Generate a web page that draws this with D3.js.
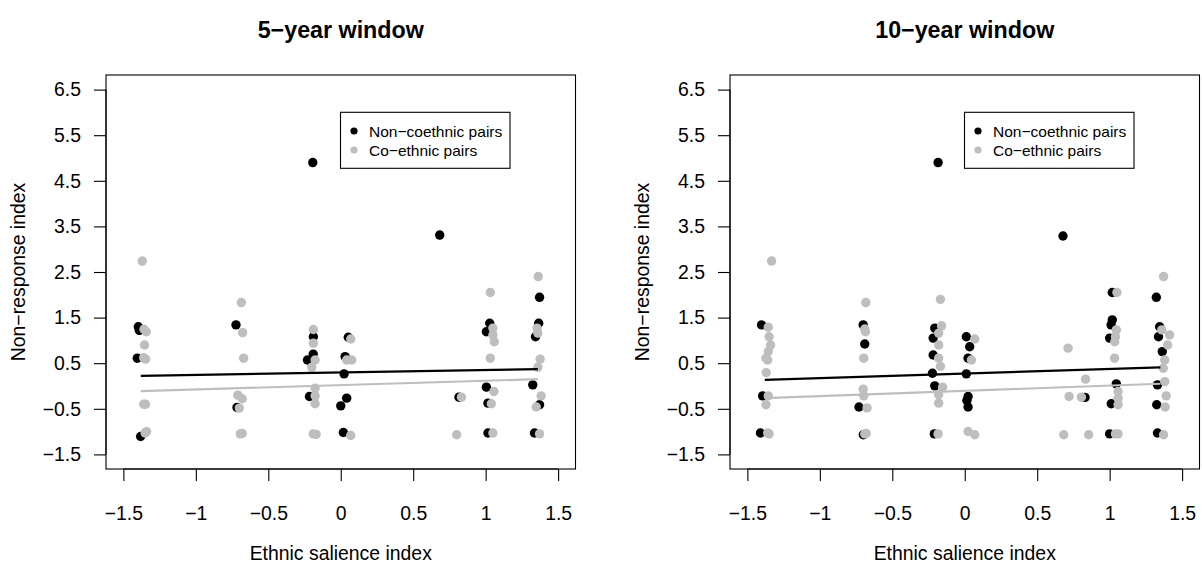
<!DOCTYPE html>
<html>
<head>
<meta charset="utf-8">
<script src="https://cdn.jsdelivr.net/npm/d3@7"></script>
<style>
  body { margin: 0; background: #fff; }
  svg text { font-family: "Liberation Sans", Arial, Helvetica, sans-serif; fill: #000; }
</style>
</head>
<body>
<div id="chart"></div>
<script>
// ---- data ----
const titles = ['5\u2212year window', '10\u2212year window'];
const xTicks = [-1.5, -1, -0.5, 0, 0.5, 1, 1.5];
const yTicks = [-1.5, -0.5, 0.5, 1.5, 2.5, 3.5, 4.5, 5.5, 6.5];
const legendLabels = ['Non\u2212coethnic pairs', 'Co\u2212ethnic pairs'];
const xTitle = 'Ethnic salience index';
const yTitle = 'Non\u2212response index';

// 5-year window
const nonCo5 = [
  [-1.397, 1.30], [-1.39, 1.22], [-1.404, 0.61], [-1.381, -1.107],
  [-0.723, 1.34], [-0.716, -0.47],
  [-0.193, 4.90], [-0.189, 1.08], [-0.23, 0.57], [-0.19, 0.70], [-0.216, -0.23],
  [0.052, 1.07], [0.03, 0.645], [0.023, 0.266], [0.041, -0.266], [0.0, -0.435], [0.018, -1.02],
  [0.683, 3.31], [0.816, -0.245],
  [1.028, 1.376], [1.005, 1.19], [1.005, -0.025], [1.016, -0.376], [1.016, -1.03],
  [1.372, 1.945], [1.366, 1.376], [1.344, 1.08], [1.325, 0.025], [1.372, -0.41], [1.337, -1.03]
];
const coEth5 = [
  [-1.37, 2.74], [-1.358, 1.244], [-1.342, 1.19], [-1.354, 0.90], [-1.347, 0.59], [-1.36, 0.62],
  [-1.347, -0.40], [-1.36, -0.40], [-1.35, -1.03], [-1.34, -1.0],
  [-0.686, 1.83], [-0.677, 1.17], [-0.67, 0.61], [-0.71, -0.2], [-0.68, -0.28], [-0.70, -0.485],
  [-0.693, -1.05], [-0.68, -1.04],
  [-0.189, 1.24], [-0.189, 0.94], [-0.177, 0.57], [-0.20, 0.41], [-0.177, -0.047], [-0.177, -0.216],
  [-0.177, -0.39], [-0.19, -1.05], [-0.17, -1.06],
  [0.069, 1.03], [0.041, 0.57], [0.076, 0.57], [0.069, -1.085],
  [0.833, -0.245], [0.80, -1.07],
  [1.032, 2.05], [1.05, 1.27], [1.05, 1.12], [1.06, 0.97], [1.032, 0.61], [1.057, -0.12],
  [1.039, -0.39], [1.05, -1.03],
  [1.363, 2.40], [1.355, 1.27], [1.36, 1.16], [1.376, 0.59], [1.36, 0.41], [1.383, -0.216],
  [1.349, -0.46], [1.372, -1.05]
];
const fitNon5 = [[-1.38, 0.222], [1.36, 0.369]];
const fitCo5 = [[-1.38, -0.113], [1.36, 0.15]];

// 10-year window
const nonCo10 = [
  [-1.402, 1.34], [-1.395, -0.216], [-1.41, -1.03],
  [-0.701, 1.34], [-0.69, 0.92], [-0.73, -0.46], [-0.70, -1.07],
  [-0.184, 4.90], [-0.207, 1.27], [-0.218, 1.05], [-0.218, 0.68], [-0.223, 0.28], [-0.207, 0.003], [-0.21, -1.05],
  [0.011, 1.08], [0.034, 0.86], [0.023, 0.61], [0.011, 0.266], [0.023, -0.23], [0.015, -0.32], [0.023, -0.46],
  [0.678, 3.29], [0.83, -0.25],
  [1.018, 2.05], [1.018, 1.45], [1.01, 1.34], [1.0, 1.05], [1.046, 0.047], [1.011, -0.39], [1.0, -1.05],
  [1.322, 1.945], [1.345, 1.30], [1.337, 1.08], [1.363, 0.754], [1.33, 0.025], [1.325, -0.41], [1.33, -1.03]
];
const coEth10 = [
  [-1.333, 2.74], [-1.356, 1.29], [-1.35, 1.08], [-1.34, 0.90], [-1.356, 0.754], [-1.372, 0.61],
  [-1.36, 0.57], [-1.37, 0.294], [-1.356, -0.216], [-1.372, -0.41], [-1.35, -1.05], [-1.36, -1.03],
  [-0.683, 1.83], [-0.69, 1.25], [-0.685, 1.19], [-0.697, 0.61], [-0.701, -0.07], [-0.697, -0.216],
  [-0.674, -0.48], [-0.69, -1.05], [-0.68, -1.04],
  [-0.168, 1.90], [-0.16, 1.32], [-0.18, 1.16], [-0.18, 0.90], [-0.18, 0.61], [-0.168, 0.43],
  [-0.153, -0.025], [-0.18, -0.19], [-0.18, -0.376], [-0.184, -1.05],
  [0.069, 1.03], [0.046, 0.57], [0.023, -0.997], [0.069, -1.07],
  [0.713, 0.83], [0.72, -0.23], [0.683, -1.07], [0.834, 0.15], [0.805, -0.245], [0.855, -1.07],
  [1.05, 2.05], [1.046, 1.23], [1.04, 1.08], [1.035, 0.97], [1.034, 0.61], [1.058, -0.12],
  [1.058, -0.27], [1.058, -0.41], [1.058, -1.05], [1.04, -1.05],
  [1.372, 2.40], [1.36, 1.23], [1.414, 1.12], [1.40, 0.90], [1.38, 0.57], [1.37, 0.39],
  [1.38, 0.097], [1.39, -0.216], [1.383, -0.46], [1.372, -1.07]
];
const fitNon10 = [[-1.38, 0.134], [1.35, 0.41]];
const fitCo10 = [[-1.38, -0.266], [1.35, 0.05]];

// ---- layout ----
const width = 1202, height = 568;
const colors = { non: '#000000', co: '#bebebe' };
const fs = 19.4;
const plotW = 469.5, plotH = 394;
const panelLeft = [106, 730], panelTop = 75;

const svg = d3.select('#chart').append('svg')
  .attr('width', width).attr('height', height);

const fmt = d => String(d).replace('-', '\u2212');

const panels = [
  { title: titles[0], non: nonCo5, co: coEth5, fitNon: fitNon5, fitCo: fitCo5 },
  { title: titles[1], non: nonCo10, co: coEth10, fitNon: fitNon10, fitCo: fitCo10 }
];

panels.forEach((p, i) => {
  const g = svg.append('g').attr('transform', `translate(${panelLeft[i]},${panelTop})`);

  // R style: limits padded by 4%
  const x = d3.scaleLinear().domain([-1.62, 1.62]).range([0, plotW]);
  const y = d3.scaleLinear().domain([-1.82, 6.82]).range([plotH, 0]);

  // points: non-coethnic first, co-ethnic drawn over
  g.append('g').selectAll('circle').data(p.non).join('circle')
    .attr('cx', d => x(d[0])).attr('cy', d => y(d[1]))
    .attr('r', 4.7).attr('fill', colors.non);
  g.append('g').selectAll('circle').data(p.co).join('circle')
    .attr('cx', d => x(d[0])).attr('cy', d => y(d[1]))
    .attr('r', 4.7).attr('fill', colors.co);

  const line = d3.line().x(d => x(d[0])).y(d => y(d[1]));
  g.append('path').attr('d', line(p.fitNon)).attr('fill', 'none')
    .attr('stroke', colors.non).attr('stroke-width', 2.2);
  g.append('path').attr('d', line(p.fitCo)).attr('fill', 'none')
    .attr('stroke', colors.co).attr('stroke-width', 2.2);

  // axes
  const ax = g.append('g').attr('transform', `translate(0,${plotH})`)
    .call(d3.axisBottom(x).tickValues(xTicks).tickFormat(fmt).tickSize(12).tickPadding(25).tickSizeOuter(0));
  const ay = g.append('g')
    .call(d3.axisLeft(y).tickValues(yTicks).tickFormat(fmt).tickSize(12).tickPadding(13).tickSizeOuter(0));
  [ax, ay].forEach(a => {
    a.select('.domain').remove();
    a.selectAll('line').attr('stroke', '#000').attr('stroke-width', 1.1);
    a.selectAll('text').attr('font-size', fs).attr('font-family', null).attr('fill', '#000');
  });
  // axis lines between first and last ticks
  ax.append('line').attr('x1', x(xTicks[0])).attr('x2', x(xTicks[xTicks.length - 1]))
    .attr('stroke', '#000').attr('stroke-width', 1.1);
  ay.append('line').attr('y1', y(yTicks[0])).attr('y2', y(yTicks[yTicks.length - 1]))
    .attr('stroke', '#000').attr('stroke-width', 1.1);

  // box
  g.append('rect').attr('x', 0).attr('y', 0).attr('width', plotW).attr('height', plotH)
    .attr('fill', 'none').attr('stroke', '#000').attr('stroke-width', 1.1);

  // titles
  g.append('text').attr('x', plotW / 2).attr('y', -37.5)
    .attr('text-anchor', 'middle').attr('font-size', fs * 1.2).attr('font-weight', 'bold')
    .text(p.title);
  g.append('text').attr('x', plotW / 2).attr('y', plotH + 91)
    .attr('text-anchor', 'middle').attr('font-size', fs).text(xTitle);
  g.append('text').attr('transform', `translate(-81,${plotH / 2}) rotate(-90)`)
    .attr('text-anchor', 'middle').attr('font-size', fs).text(yTitle);

  // legend
  const lg = g.append('g').attr('transform', 'translate(234.5,37.3)');
  lg.append('rect').attr('width', 169.5).attr('height', 56)
    .attr('fill', '#fff').attr('stroke', '#000').attr('stroke-width', 1.1);
  const items = lg.selectAll('g.item').data(legendLabels).join('g')
    .attr('class', 'item')
    .attr('transform', (d, k) => `translate(0,${18.7 + k * 19})`);
  items.append('circle').attr('cx', 13.5).attr('cy', 0).attr('r', 3.6)
    .attr('fill', (d, k) => k === 0 ? colors.non : colors.co);
  items.append('text').attr('x', 28.5).attr('y', 5.5)
    .attr('font-size', fs * 0.8).text(d => d);
});
</script>
</body>
</html>
